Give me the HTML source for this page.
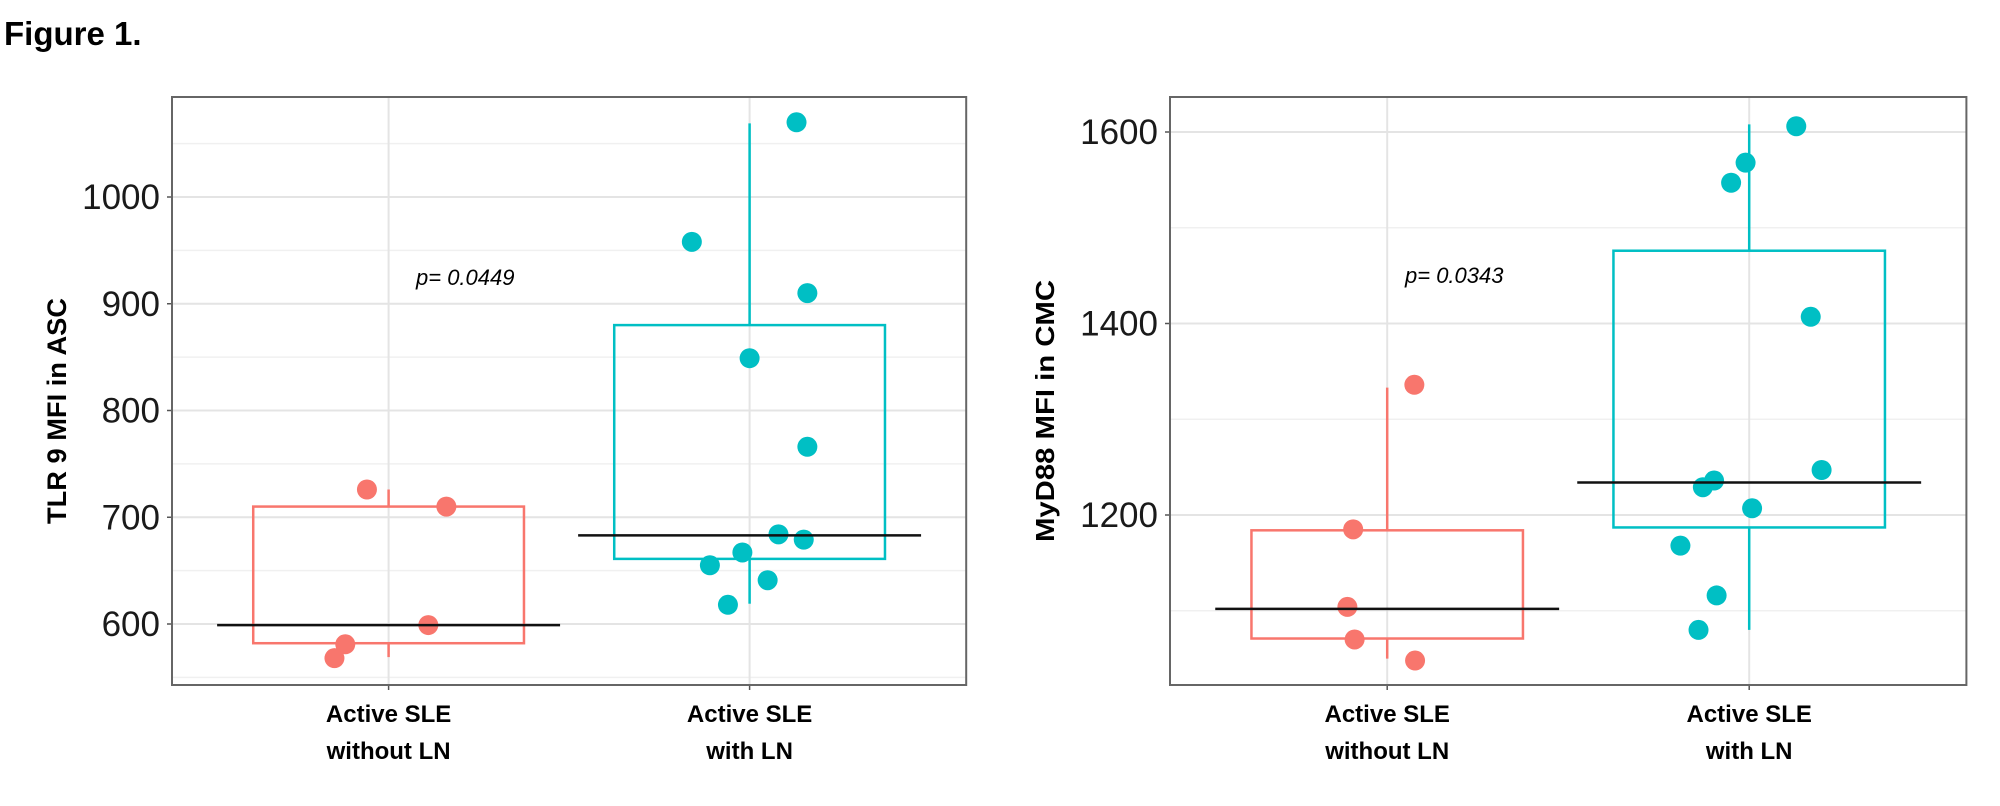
<!DOCTYPE html>
<html><head><meta charset="utf-8"><style>
html,body{margin:0;padding:0;background:#fff;}
svg{display:block;font-family:"Liberation Sans",sans-serif;}
</style></head><body>
<svg id="fig" width="2000" height="806" viewBox="0 0 2000 806" xmlns="http://www.w3.org/2000/svg">
<text x="4" y="45" font-size="33" font-weight="bold">Figure 1.</text>
</svg>
<script>
// ---- Left chart data (TLR 9 MFI in ASC) ----
const leftCategories = ["Active SLE|without LN", "Active SLE|with LN"];
const leftRedValues = [726, 710, 599, 581, 568];
const leftRedJitter = [-0.06, 0.16, 0.11, -0.12, -0.15];
const leftTealValues = [1070, 958, 910, 849, 766, 684, 679, 667, 655, 641, 618];
const leftTealJitter = [0.13, -0.16, 0.16, 0.0, 0.16, 0.08, 0.15, -0.02, -0.11, 0.05, -0.06];
const leftBoxStats = [[569, 582, 599, 710, 726], [619, 661, 683, 880, 1069]];
const leftTicks = [600, 700, 800, 900, 1000];
const leftMinor = [550, 650, 750, 850, 950, 1050];
// ---- Right chart data (MyD88 MFI in CMC) ----
const rightCategories = ["Active SLE|without LN", "Active SLE|with LN"];
const rightRedValues = [1336, 1185, 1104, 1070, 1048];
const rightRedJitter = [0.075, -0.094, -0.11, -0.09, 0.077];
const rightTealValues = [1606, 1568, 1547, 1407, 1247, 1236, 1229, 1207, 1168, 1116, 1080];
const rightTealJitter = [0.13, -0.01, -0.05, 0.17, 0.2, -0.097, -0.128, 0.008, -0.19, -0.09, -0.14];
const rightBoxStats = [[1050, 1071, 1102, 1184, 1333], [1080, 1187, 1234, 1476, 1608]];
const rightTicks = [1200, 1400, 1600];
const rightMinor = [1100, 1300, 1500];

const NS = "http://www.w3.org/2000/svg";
const svg = document.getElementById("fig");
function mk(tag, attrs, parent) {
  const e = document.createElementNS(NS, tag);
  for (const k in attrs) e.setAttribute(k, attrs[k]);
  (parent || svg).appendChild(e);
  return e;
}
const RED = "#f8766d", TEAL = "#00bfc4";

function drawChart(cfg) {
  const g = mk("g", {});
  
  
  const left = cfg.left, top = 97, bottom = 685, gap = cfg.gap;
  const right = left + 2.2 * gap;
  const yS = v => cfg.y0 - (v - cfg.v0) * cfg.ppu;
  const xS = (i, j) => left + (0.6 + i + (j || 0)) * gap;
  cfg.minor.forEach(v => {
    const l = mk("line", {x1: left, x2: right, y1: yS(v), y2: yS(v), stroke: "#f0f0f0", "stroke-width": 1.5}, g);
    
    
  });
  cfg.ticks.forEach(v => {
    const l = mk("line", {x1: left, x2: right, y1: yS(v), y2: yS(v), stroke: "#e4e4e4", "stroke-width": 2}, g);
    
    
    const tk = mk("line", {x1: left - 5, x2: left, y1: yS(v), y2: yS(v), stroke: "#555", "stroke-width": 1.5}, g);
    
    
    const t = mk("text", {x: left - 12, y: yS(v) + 12, "text-anchor": "end", "font-size": 35, fill: "#1a1a1a"}, g);
    t.textContent = v;
    
    
  });
  cfg.cats.forEach((c, i) => {
    const l = mk("line", {x1: xS(i), x2: xS(i), y1: top, y2: bottom, stroke: "#e4e4e4", "stroke-width": 2}, g);
    
    
    const tk = mk("line", {x1: xS(i), x2: xS(i), y1: bottom, y2: bottom + 5, stroke: "#555", "stroke-width": 1.5}, g);
    
    
    const parts = c.split("|");
    parts.forEach((p, k) => {
      const t = mk("text", {x: xS(i), y: 722 + k * 37, "text-anchor": "middle", "font-size": 24, "font-weight": "bold", fill: "#000"}, g);
      t.textContent = p;
      
      
    });
  });
  const cols = [RED, TEAL];
  cfg.box.forEach((s, i) => {
    const cx = xS(i), hw = 0.375 * gap;
    const wl = mk("line", {x1: cx, x2: cx, y1: yS(s[4]), y2: yS(s[3]), stroke: cols[i], "stroke-width": 2.5}, g);
    
    
    const wl2 = mk("line", {x1: cx, x2: cx, y1: yS(s[1]), y2: yS(s[0]), stroke: cols[i], "stroke-width": 2.5}, g);
    
    
    const r = mk("rect", {x: cx - hw, y: yS(s[3]), width: 2 * hw, height: yS(s[1]) - yS(s[3]), fill: "none", stroke: cols[i], "stroke-width": 2.5}, g);
    
    
  });
  const drawPts = (vals, jit, i, col) => vals.forEach((v, k) => {
    const c = mk("ellipse", {cx: xS(i, jit[k]), cy: yS(v), rx: 10, ry: 10, fill: col}, g);
    
    
  });
  drawPts(cfg.red, cfg.redJ, 0, RED);
  drawPts(cfg.teal, cfg.tealJ, 1, TEAL);
  cfg.box.forEach((s, i) => {
    const cx = xS(i), hw = 0.475 * gap;
    const m = mk("line", {x1: cx - hw, x2: cx + hw, y1: yS(s[2]), y2: yS(s[2]), stroke: "#111", "stroke-width": 2.5}, g);
    
    
  });
  const b = mk("rect", {x: left, y: top, width: right - left, height: bottom - top, fill: "none", stroke: "#666", "stroke-width": 2}, g);
  
  
  const p = mk("text", {x: cfg.px, y: cfg.py, "font-size": 22, "font-style": "italic", fill: "#000"}, g);
  p.textContent = cfg.pText;
  
  
  const yt = mk("text", {x: 0, y: 0, transform: `translate(${cfg.tx},411) rotate(-90)`, "text-anchor": "middle", "font-size": cfg.tfs, "font-weight": "bold", fill: "#000", textLength: cfg.tlen, lengthAdjust: "spacingAndGlyphs"}, g);
  yt.textContent = cfg.title;
  
  
}

drawChart({name: "tlr9-chart", left: 172, gap: 361, y0: 624, v0: 600, ppu: 1.0675,
  ticks: leftTicks, minor: leftMinor, cats: leftCategories, box: leftBoxStats,
  red: leftRedValues, redJ: leftRedJitter, teal: leftTealValues, tealJ: leftTealJitter,
  px: 416, py: 285, pText: "p= 0.0449", tx: 66, tfs: 27, tlen: 226, title: "TLR 9 MFI in ASC"});
drawChart({name: "myd88-chart", left: 1170, gap: 362, y0: 515, v0: 1200, ppu: 0.9575,
  ticks: rightTicks, minor: rightMinor, cats: rightCategories, box: rightBoxStats,
  red: rightRedValues, redJ: rightRedJitter, teal: rightTealValues, tealJ: rightTealJitter,
  px: 1405, py: 283, pText: "p= 0.0343", tx: 1054, tfs: 26, tlen: 262, title: "MyD88 MFI in CMC"});
</script>
</body></html>
